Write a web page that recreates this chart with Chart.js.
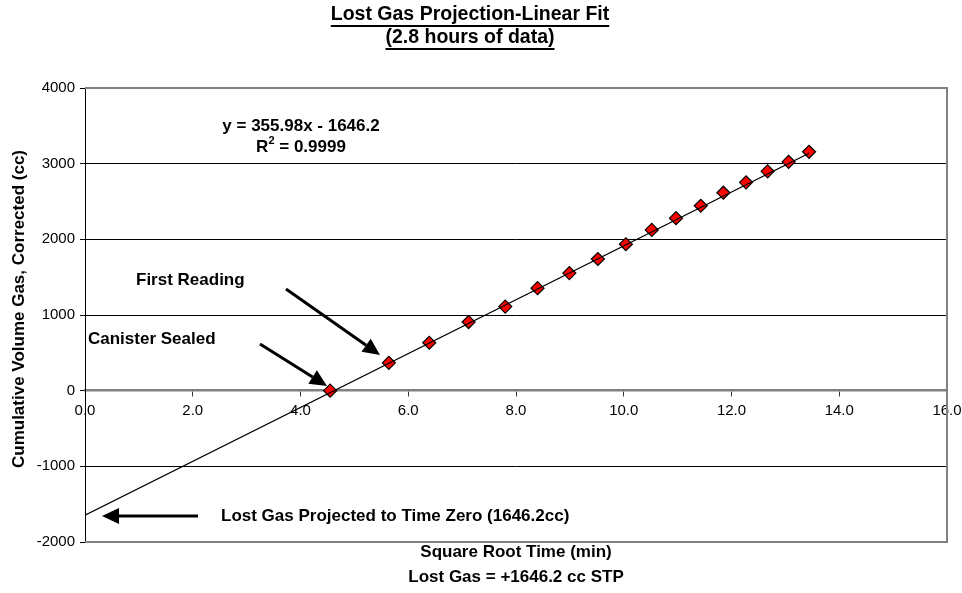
<!DOCTYPE html>
<html lang="en">
<head>
<meta charset="UTF-8">
<title>Lost Gas Projection-Linear Fit</title>
<script src="https://cdn.jsdelivr.net/npm/chart.js"></script>
<style>
  html, body { margin: 0; padding: 0; background: #fff; }
  #wrap { width: 962px; height: 593px; }
</style>
</head>
<body>
<div id="wrap"><canvas id="lostGasChart" width="962" height="593"></canvas></div>
<script>
// square root of time (min) vs cumulative corrected volume (cc)
const sqrtTime = [4.55, 5.64, 6.39, 7.12, 7.80, 8.40, 8.99, 9.52, 10.04, 10.52, 10.97, 11.43, 11.85, 12.27, 12.67, 13.06, 13.44];
const cumGas   = [0, 368, 633, 907, 1111, 1355, 1554, 1740, 1935, 2125, 2280, 2444, 2616, 2753, 2899, 3024, 3157];

// linear trend line ends (y = 355.98x - 1646.2)
const fitX = [0, 13.44];
const fitY = [-1646.2, 3138.2];

const xTicks = [0, 2, 4, 6, 8, 10, 12, 14, 16];
const yTicks = [-2000, -1000, 0, 1000, 2000, 3000, 4000];

const FONT = '"Liberation Sans", Arial, sans-serif';

function arrow(ctx, x1, y1, x2, y2, lw, headLen, headW) {
    const ang = Math.atan2(y2 - y1, x2 - x1);
    const bx = x2 - headLen * Math.cos(ang);
    const by = y2 - headLen * Math.sin(ang);
    ctx.save();
    ctx.strokeStyle = '#000';
    ctx.fillStyle = '#000';
    ctx.lineWidth = lw;
    ctx.beginPath();
    ctx.moveTo(x1, y1);
    ctx.lineTo(bx, by);
    ctx.stroke();
    ctx.beginPath();
    ctx.moveTo(x2, y2);
    ctx.lineTo(bx + headW * Math.sin(ang), by - headW * Math.cos(ang));
    ctx.lineTo(bx - headW * Math.sin(ang), by + headW * Math.cos(ang));
    ctx.closePath();
    ctx.fill();
    ctx.restore();
}

function underlined(ctx, text, cx, cy) {
    ctx.fillText(text, cx, cy);
    const w = ctx.measureText(text).width;
    ctx.fillRect(cx - w / 2, cy + 10, w, 2);
}

const framePlugin = {
    id: 'frame',
    beforeDatasetsDraw(chart) {
        const a = chart.chartArea;
        const ctx = chart.ctx;
        ctx.save();
        ctx.strokeStyle = '#808080';
        ctx.lineWidth = 2;
        ctx.beginPath();
        ctx.moveTo(a.left, a.top);
        ctx.lineTo(a.right, a.top);
        ctx.lineTo(a.right, a.bottom);
        ctx.lineTo(a.left, a.bottom);
        ctx.stroke();
        ctx.restore();
    },
    afterDraw(chart) {
        const ctx = chart.ctx;
        ctx.save();
        ctx.fillStyle = '#000';
        ctx.textAlign = 'center';
        ctx.textBaseline = 'middle';

        // title
        ctx.font = 'bold 19.5px ' + FONT;
        underlined(ctx, 'Lost Gas Projection-Linear Fit', 470, 15);
        underlined(ctx, '(2.8 hours of data)', 470, 38);

        // equation + R squared
        ctx.font = 'bold 17px ' + FONT;
        ctx.fillText('y = 355.98x - 1646.2', 301, 126);
        const rest = ' = 0.9999';
        const wR = ctx.measureText('R').width;
        const wRest = ctx.measureText(rest).width;
        ctx.font = 'bold 11px ' + FONT;
        const w2 = ctx.measureText('2').width;
        let x0 = 301 - (wR + w2 + wRest) / 2;
        ctx.textAlign = 'left';
        ctx.font = 'bold 17px ' + FONT;
        ctx.fillText('R', x0, 147);
        ctx.font = 'bold 11px ' + FONT;
        ctx.fillText('2', x0 + wR, 141);
        ctx.font = 'bold 17px ' + FONT;
        ctx.fillText(rest, x0 + wR + w2, 147);

        // annotations
        ctx.fillText('First Reading', 136, 280);
        ctx.fillText('Canister Sealed', 88, 339);
        ctx.fillText('Lost Gas Projected to Time Zero (1646.2cc)', 221, 516);

        // axis titles
        ctx.textAlign = 'center';
        ctx.fillText('Square Root Time (min)', 516, 552);
        ctx.fillText('Lost Gas = +1646.2 cc STP', 516, 577);
        ctx.save();
        ctx.translate(19, 309);
        ctx.rotate(-Math.PI / 2);
        ctx.fillText('Cumulative Volume Gas, Corrected (cc)', 0, 0);
        ctx.restore();

        arrow(ctx, 286, 289, 380, 355, 3, 17, 8);
        arrow(ctx, 260, 344, 327, 386, 3, 17, 8);
        arrow(ctx, 198, 516, 102, 516, 3, 17, 8);
        ctx.restore();
    }
};

const ctx = document.getElementById('lostGasChart').getContext('2d');
new Chart(ctx, {
    type: 'scatter',
    data: {
        datasets: [
            {
                type: 'line',
                label: 'Linear fit',
                data: fitX.map((x, i) => ({ x: x, y: fitY[i] })),
                borderColor: '#000',
                borderWidth: 1.3,
                pointRadius: 0,
                fill: false
            },
            {
                label: 'Lost gas',
                data: sqrtTime.map((x, i) => ({ x: x, y: cumGas[i] })),
                pointStyle: 'rectRot',
                pointRadius: 6.5,
                pointHoverRadius: 6.5,
                backgroundColor: '#ff0000',
                borderColor: '#000',
                borderWidth: 1.2
            }
        ]
    },
    options: {
        responsive: false,
        animation: false,
        devicePixelRatio: 1,
        layout: { padding: { left: 0, top: 88, right: 15, bottom: 51 } },
        plugins: {
            legend: { display: false },
            tooltip: { enabled: false },
            title: { display: false }
        },
        scales: {
            x: {
                type: 'linear',
                position: { y: 0 },
                min: 0,
                max: 16,
                afterBuildTicks: s => { s.ticks = xTicks.map(v => ({ value: v })); },
                afterFit: s => { s.paddingLeft = 0; s.paddingRight = 0; },
                ticks: {
                    color: '#000',
                    font: { family: FONT, size: 15 },
                    padding: 6,
                    maxRotation: 0,
                    callback: v => Number(v).toFixed(1)
                },
                grid: {
                    drawOnChartArea: false,
                    drawTicks: true,
                    tickLength: 5,
                    tickColor: '#333'
                },
                border: { color: '#808080', width: 2.5 }
            },
            y: {
                type: 'linear',
                min: -2000,
                max: 4000,
                afterBuildTicks: s => { s.ticks = yTicks.map(v => ({ value: v })); },
                afterFit: s => { s.width = 85; s.paddingTop = 0; s.paddingBottom = 0; },
                ticks: {
                    color: '#000',
                    font: { family: FONT, size: 15 },
                    padding: 5,
                    callback: v => String(v)
                },
                grid: {
                    color: c => {
                        const v = c.tick ? c.tick.value : null;
                        if (v === 0 || v === 4000 || v === -2000) return 'rgba(0,0,0,0)';
                        return '#000';
                    },
                    tickColor: '#000',
                    tickLength: 5,
                    lineWidth: 1
                },
                border: { color: '#000', width: 1 }
            }
        }
    },
    plugins: [framePlugin]
});
</script>
</body>
</html>
